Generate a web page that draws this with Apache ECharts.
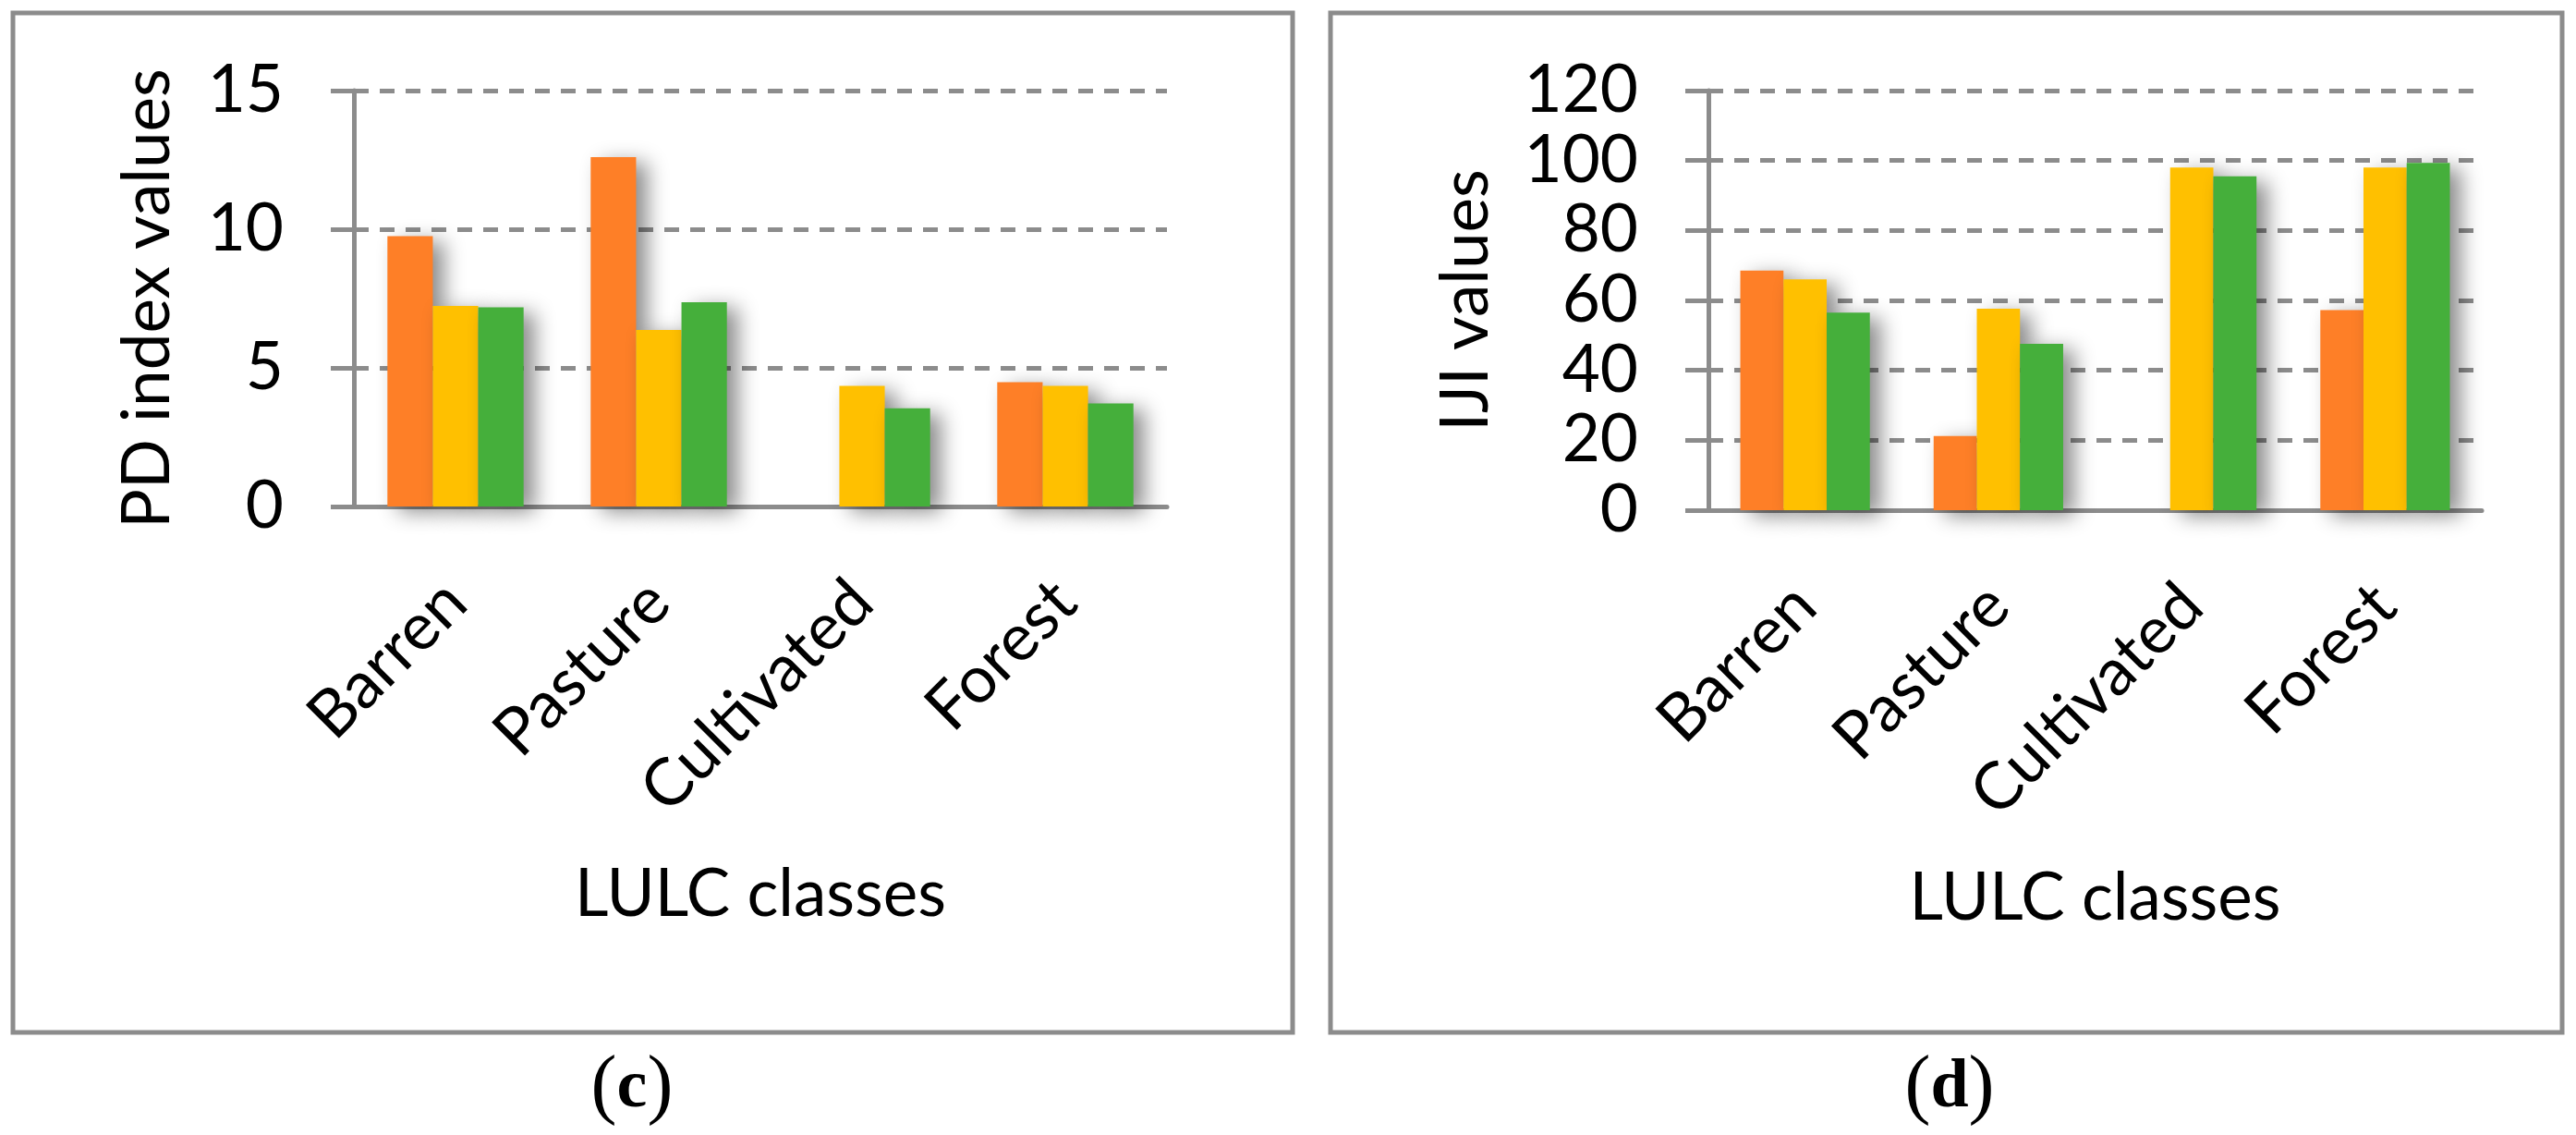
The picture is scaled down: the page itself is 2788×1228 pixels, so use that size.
<!DOCTYPE html>
<html>
<head>
<meta charset="utf-8">
<script src="https://cdn.jsdelivr.net/npm/echarts@6/dist/echarts.min.js"></script>
<style>
html,body{margin:0;padding:0;background:#fff;}
#chart{width:2788px;height:1228px;}
</style>
</head>
<body>
<div id="chart"></div>
<script>
const categories = ['Barren', 'Pasture', 'Cultivated', 'Forest'];
const pdTicks = [0, 5, 10, 15];
const ijiTicks = [0, 20, 40, 60, 80, 100, 120];
// PD index values (panel c)
const pdOrange = [9.75, 12.6, null, 4.48];
const pdYellow = [7.23, 6.37, 4.35, 4.35];
const pdGreen  = [7.18, 7.37, 3.54, 3.72];
// IJI values (panel d)
const ijiOrange = [68.5, 21.2, null, 57.2];
const ijiYellow = [66.0, 57.6, 98.0, 98.0];
const ijiGreen  = [56.5, 47.6, 95.5, 99.3];

const FONT = 'Lato';
const GREY = '#8c8c8c';
const COLORS = ['#fe7f27', '#ffc000', '#45af3b'];

function yAxisCfg(gridIndex, name, ticks, nameGap, margin) {
  return {
    gridIndex, type: 'value', min: ticks[0], max: ticks[ticks.length - 1], interval: ticks[1] - ticks[0],
    name, nameLocation: 'middle', nameGap,
    nameTextStyle: {fontFamily: FONT, fontSize: 71, color: '#000'},
    axisLine: {show: true, lineStyle: {color: GREY, width: 5}},
    axisTick: {show: true, length: 25, lineStyle: {color: GREY, width: 5}},
    axisLabel: {fontFamily: FONT, fontSize: 71, color: '#000', margin},
    splitLine: {show: true, lineStyle: {color: GREY, width: 5, type: [16, 12]}}
  };
}
// companion axis drawing the short part of each tick inside the plot
function yInnerTicks(gridIndex, ticks) {
  return {
    gridIndex, type: 'value', position: 'left', min: ticks[0], max: ticks[ticks.length - 1], interval: ticks[1] - ticks[0],
    axisLine: {show: false},
    axisTick: {show: true, inside: true, length: 16, lineStyle: {color: GREY, width: 5}},
    axisLabel: {show: false},
    splitLine: {show: false}
  };
}
function xAxisCfg(gridIndex) {
  return {
    gridIndex, type: 'category', data: categories,
    name: 'LULC classes', nameLocation: 'middle', nameGap: 385,
    nameTextStyle: {fontFamily: FONT, fontSize: 71, color: '#000'},
    axisLine: {show: true, lineStyle: {color: GREY, width: 5}},
    axisTick: {show: false},
    axisLabel: {fontFamily: FONT, fontSize: 71, color: '#000', rotate: 45, margin: 92, interval: 0}
  };
}
function barSeries(name, data, xi, color) {
  return {
    name, type: 'bar', data, xAxisIndex: xi, yAxisIndex: xi,
    barGap: '0%', barCategoryGap: '33%',
    itemStyle: {color, shadowColor: 'rgba(0,0,0,0.45)', shadowBlur: 22, shadowOffsetX: 12, shadowOffsetY: 6}
  };
}

const chart = echarts.init(document.getElementById('chart'));
const richLabel = {
  p: {fontFamily: 'Liberation Serif', fontSize: 84, fill: '#000'},
  b: {fontFamily: 'Liberation Serif', fontSize: 74, fontWeight: 'bold', fill: '#000'}
};
chart.setOption({
  animation: false,
  backgroundColor: '#fff',
  grid: [
    {left: 383, top: 98, width: 880, height: 450},
    {left: 1849, top: 98, width: 837, height: 454}
  ],
  xAxis: [xAxisCfg(0), xAxisCfg(1)],
  yAxis: [
    yAxisCfg(0, 'PD index values', pdTicks, 187, 76),
    yAxisCfg(1, 'IJI values', ijiTicks, 226, 76),
    yInnerTicks(0, pdTicks),
    yInnerTicks(1, ijiTicks)
  ],
  series: [
    barSeries('S1', pdOrange, 0, COLORS[0]),
    barSeries('S2', pdYellow, 0, COLORS[1]),
    barSeries('S3', pdGreen, 0, COLORS[2]),
    barSeries('S1', ijiOrange, 1, COLORS[0]),
    barSeries('S2', ijiYellow, 1, COLORS[1]),
    barSeries('S3', ijiGreen, 1, COLORS[2])
  ],
  graphic: [
    {type: 'rect', shape: {x: 14, y: 14, width: 1385, height: 1103}, style: {fill: 'none', stroke: GREY, lineWidth: 5}, z: -1},
    {type: 'rect', shape: {x: 1440, y: 14, width: 1333, height: 1103}, style: {fill: 'none', stroke: GREY, lineWidth: 5}, z: -1},
    {type: 'text', x: 684, y: 1178, style: {text: '{p|(}{b|c}{p|)}', align: 'center', verticalAlign: 'middle', rich: richLabel}},
    {type: 'text', x: 2110, y: 1178, style: {text: '{p|(}{b|d}{p|)}', align: 'center', verticalAlign: 'middle', rich: richLabel}}
  ]
});
</script>
</body>
</html>
